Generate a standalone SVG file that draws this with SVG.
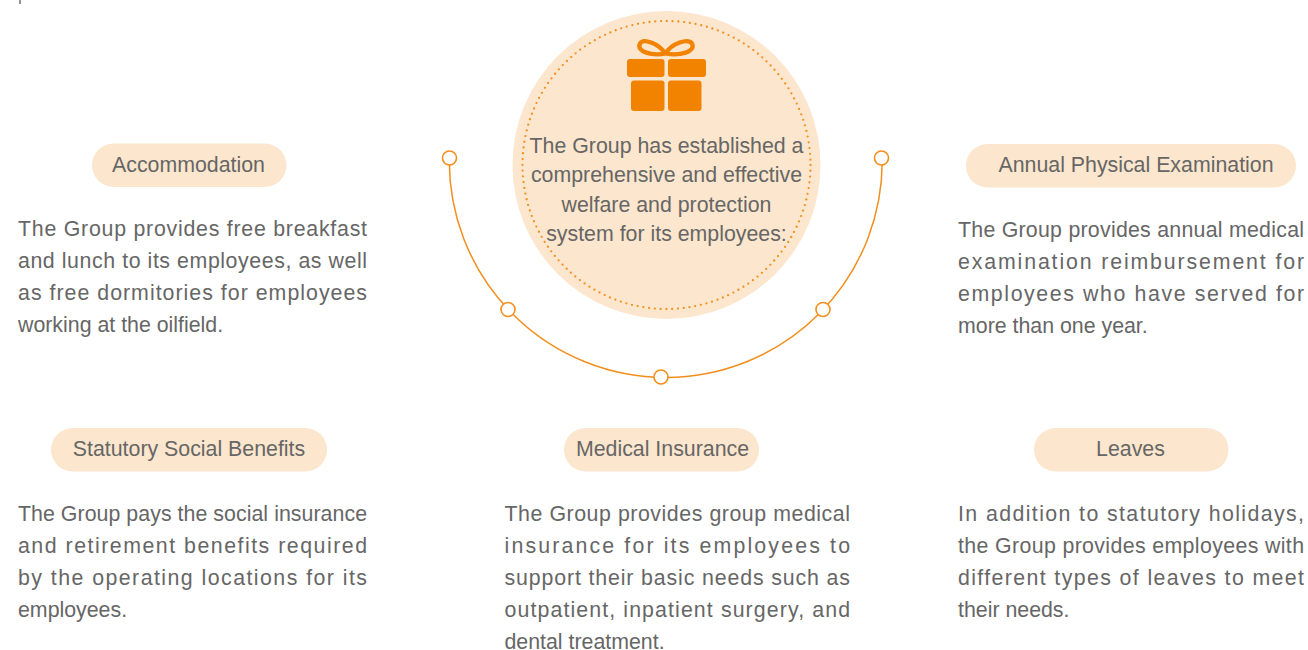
<svg xmlns="http://www.w3.org/2000/svg" width="1308" height="650" viewBox="0 0 1308 650">
<style>
text{font-family:"Liberation Sans",Arial,sans-serif;font-size:21.33px;fill:#666}
.t{text-anchor:middle}
.pill,.disc{fill:#fce6cd}
.dots{fill:none;stroke:#f39221;stroke-width:2.3;stroke-linecap:round;stroke-dasharray:0 5.8}
.arc{fill:none;stroke:#f28e1c;stroke-width:1.5}
.dot{fill:#fff;stroke:#f28e1c;stroke-width:1.6}
.gift{fill:#f18300}
.bow{fill:none;stroke:#f18300;stroke-width:4.3;stroke-linejoin:round}
</style>
<rect width="1308" height="650" fill="#fff"/>
<line x1="20" y1="0" x2="20" y2="4" stroke="#666" stroke-width="1.4"/>
<g id="connectors">
<path class="arc" d="M449.300 158 A216.470 216.470 0 1 0 882.200 158"/>
<circle class="dot" cx="449.500" cy="158" r="7"/>
<circle class="dot" cx="508" cy="309.500" r="7"/>
<circle class="dot" cx="661" cy="377" r="7"/>
<circle class="dot" cx="823" cy="309.500" r="7"/>
<circle class="dot" cx="881.500" cy="158" r="7"/>
</g>
<g id="center">
<circle class="disc" cx="666.500" cy="165" r="154"/>
<circle class="dots" cx="666.500" cy="165" r="144"/>
<path class="bow" d="M665.500 53.500C658 43 643 38 640 43.500C636 52 652 56 665.500 53.500C672 43 688 38 692 43.500C696 52 680 56 665.500 53.500Z"/>
<rect class="gift" x="627" y="59" width="37.500" height="18" rx="3"/>
<rect class="gift" x="668" y="59" width="38" height="18" rx="3"/>
<rect class="gift" x="631" y="80.500" width="33.500" height="30.500" rx="3"/>
<rect class="gift" x="668" y="80.500" width="33.500" height="30.500" rx="3"/>
<text class="t" x="666.500" y="152.500">The Group has established a</text>
<text class="t" x="666.500" y="182">comprehensive and effective</text>
<text class="t" x="666.500" y="211.500">welfare and protection</text>
<text class="t" x="666.500" y="241">system for its employees:</text>
</g>
<g id="accommodation">
<rect class="pill" x="92" y="143.500" width="194.500" height="43.500" rx="21.750"/>
<text class="t" x="188.500" y="172">Accommodation</text>
<text x="18" y="236" textLength="349" lengthAdjust="spacing">The Group provides free breakfast</text>
<text x="18" y="268" textLength="349" lengthAdjust="spacing">and lunch to its employees, as well</text>
<text x="18" y="300" textLength="349" lengthAdjust="spacing">as free dormitories for employees</text>
<text x="18" y="332">working at the oilfield.</text>
</g>
<g id="annual-physical-examination">
<rect class="pill" x="966" y="144" width="330" height="43.500" rx="21.750"/>
<text class="t" x="1136" y="172">Annual Physical Examination</text>
<text x="958" y="237" textLength="346" lengthAdjust="spacing">The Group provides annual medical</text>
<text x="958" y="269" textLength="346" lengthAdjust="spacing">examination reimbursement for</text>
<text x="958" y="301" textLength="346" lengthAdjust="spacing">employees who have served for</text>
<text x="958" y="333">more than one year.</text>
</g>
<g id="statutory-social-benefits">
<rect class="pill" x="51" y="428" width="276" height="43.500" rx="21.750"/>
<text class="t" x="189" y="456">Statutory Social Benefits</text>
<text x="18" y="521" textLength="349" lengthAdjust="spacing">The Group pays the social insurance</text>
<text x="18" y="553" textLength="349" lengthAdjust="spacing">and retirement benefits required</text>
<text x="18" y="585" textLength="349" lengthAdjust="spacing">by the operating locations for its</text>
<text x="18" y="617">employees.</text>
</g>
<g id="medical-insurance">
<rect class="pill" x="564" y="428" width="195" height="43.500" rx="21.750"/>
<text class="t" x="662.500" y="456">Medical Insurance</text>
<text x="504.500" y="521" textLength="345.500" lengthAdjust="spacing">The Group provides group medical</text>
<text x="504.500" y="553" textLength="345.500" lengthAdjust="spacing">insurance for its employees to</text>
<text x="504.500" y="585" textLength="345.500" lengthAdjust="spacing">support their basic needs such as</text>
<text x="504.500" y="617" textLength="345.500" lengthAdjust="spacing">outpatient, inpatient surgery, and</text>
<text x="504.500" y="649">dental treatment.</text>
</g>
<g id="leaves">
<rect class="pill" x="1034" y="428" width="194.500" height="43.500" rx="21.750"/>
<text class="t" x="1130.500" y="456">Leaves</text>
<text x="958" y="521" textLength="346" lengthAdjust="spacing">In addition to statutory holidays,</text>
<text x="958" y="553" textLength="346" lengthAdjust="spacing">the Group provides employees with</text>
<text x="958" y="585" textLength="346" lengthAdjust="spacing">different types of leaves to meet</text>
<text x="958" y="617">their needs.</text>
</g>
</svg>
